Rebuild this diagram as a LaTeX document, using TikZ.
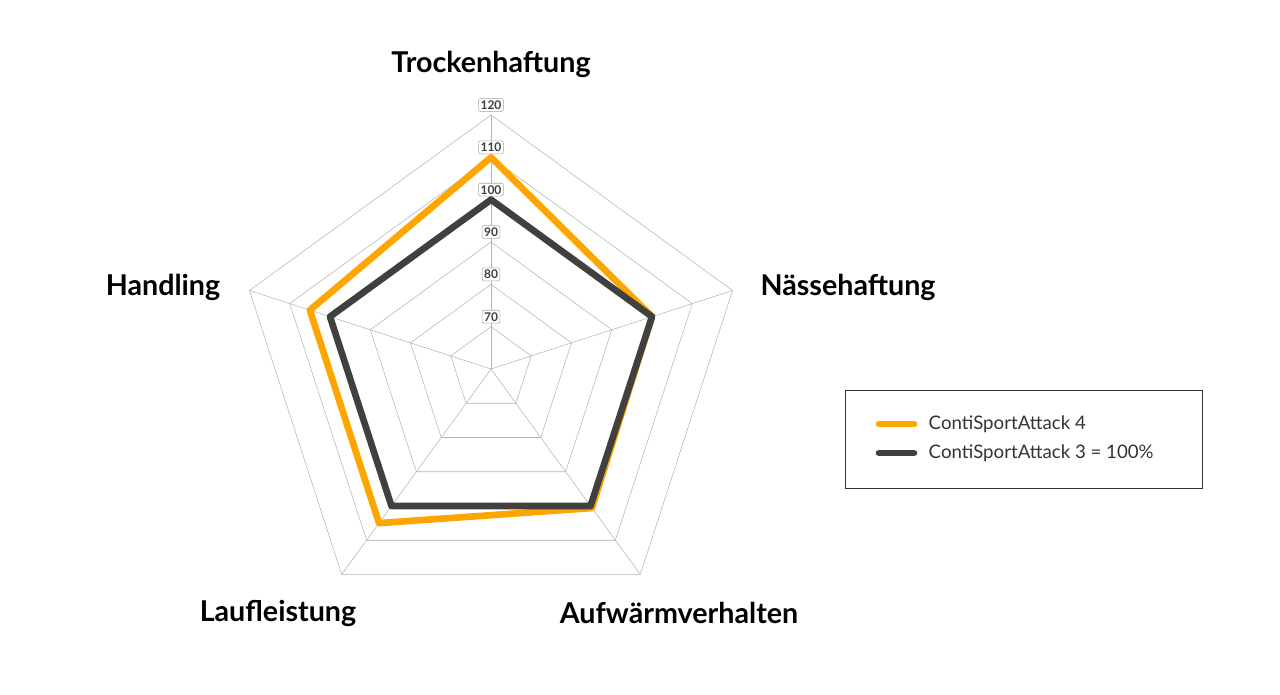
\documentclass[tikz,border=0pt]{standalone}
\usepackage{fontspec}
\setmainfont{Lato}
\usetikzlibrary{calc}
\definecolor{contiorange}{HTML}{FFA500}
\definecolor{contidark}{HTML}{404040}
\begin{document}
\begin{tikzpicture}[x=0.75pt,y=-0.75pt,
  axlab/.style={font=\fontsize{21.5}{24}\selectfont\bfseries},
  tick/.style={draw=gray!70,rounded corners=1.5pt,fill=white,inner sep=1.5pt,font=\fontsize{9}{10}\selectfont\bfseries,text=black!75},
  grid/.style={draw=gray!60,line width=0.4pt},
  ser/.style={line width=5pt,line join=round}]
\useasboundingbox (0,0) rectangle (1280,695);
\coordinate (c) at (491,369);
\def\s{4.233}
\foreach \v in {70,80,90,100,110,120}{
  \draw[grid] ($(c)+(-90:{(\v-60)*\s})$) \foreach \a in {-18,54,126,-162}{ -- ($(c)+(\a:{(\v-60)*\s})$)} -- cycle;
}
\foreach \a in {-90,-18,54,126,-162} \draw[grid] (c) -- ($(c)+(\a:{60*\s})$);
\foreach \v in {70,80,90,100,110,120}
  \node[tick] (t\v) at ($(c)+(0,{-(\v-60)*\s-10})$) {\v};
\draw[ser,contiorange] ($(c)+(-90:{50*\s})$) -- ($(c)+(-18:{40*\s})$) -- ($(c)+(54:{40.6*\s})$) -- ($(c)+(126:{45*\s})$) -- ($(c)+(-162:{45*\s})$) -- cycle;
\draw[ser,contidark] ($(c)+(-90:{40*\s})$) -- ($(c)+(-18:{40*\s})$) -- ($(c)+(54:{40*\s})$) -- ($(c)+(126:{40*\s})$) -- ($(c)+(-162:{40*\s})$) -- cycle;
\node[axlab] (l1) at (491,64) {Trockenhaftung};
\node[axlab] (l2) at (848,287) {Nässehaftung};
\node[axlab] (l3) at (679,613) {Aufwärmverhalten};
\node[axlab] (l4) at (278,613) {Laufleistung};
\node[axlab] (l5) at (163,287) {Handling};
\node[draw=black!80,line width=0.6pt,minimum width=267.75pt,minimum height=73.5pt,inner sep=0pt] (leg) at (1023.5,439) {};
\draw[ser,contiorange,line cap=round] (879,424) -- (914,424);
\draw[ser,contidark,line cap=round] (879,453) -- (914,453);
\node[anchor=west,font=\fontsize{14}{16}\selectfont,text=black!80] (e1) at (924,424) {ContiSportAttack 4};
\node[anchor=west,font=\fontsize{14}{16}\selectfont,text=black!80] (e2) at (924,453) {ContiSportAttack 3 = 100\%};
\end{tikzpicture}
\end{document}
